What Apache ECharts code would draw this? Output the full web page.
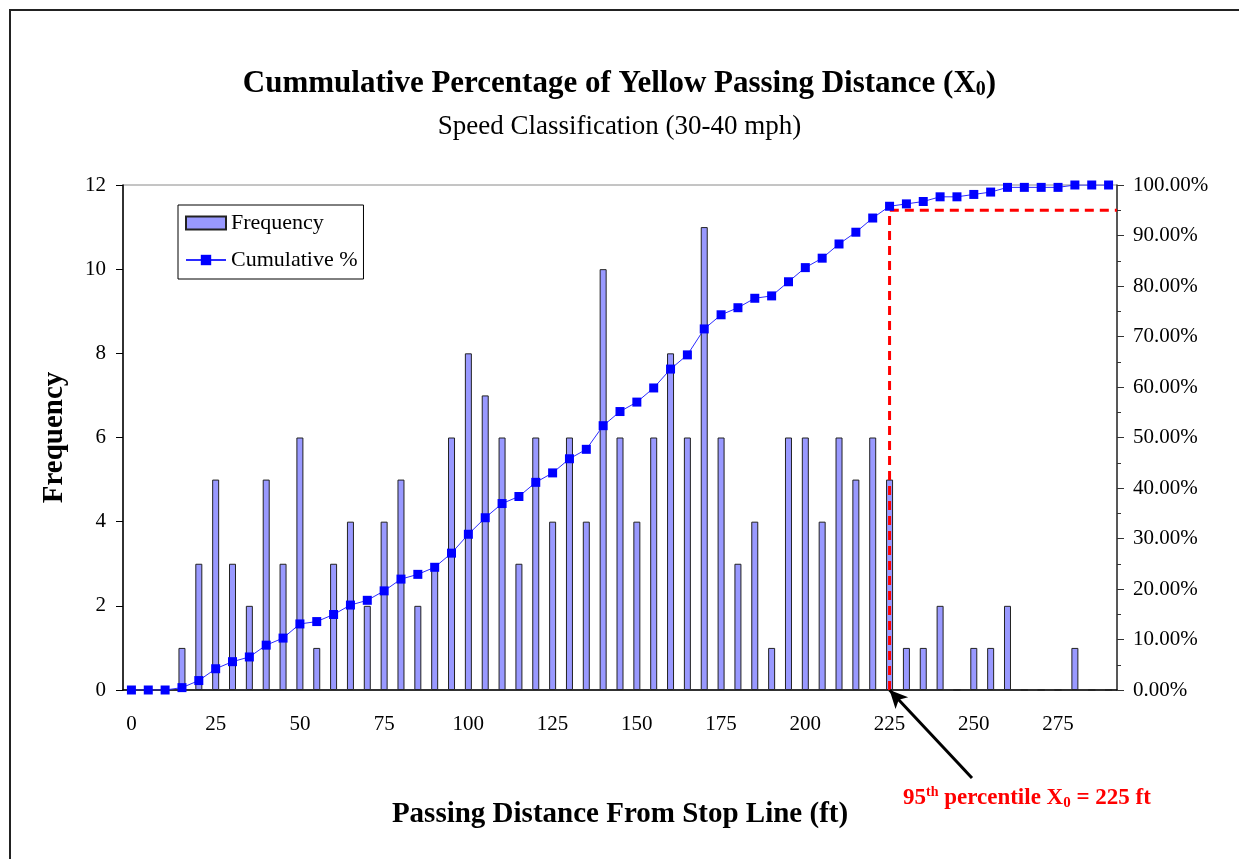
<!DOCTYPE html>
<html>
<head>
<meta charset="utf-8">
<title>Cumulative Percentage of Yellow Passing Distance</title>
<script src="https://cdn.jsdelivr.net/npm/echarts@6/dist/echarts.min.js"></script>
<style>
  html, body { margin: 0; padding: 0; background: #fff; }
  #chart { width: 1239px; height: 859px; }
</style>
</head>
<body>
<div id="chart"></div>
<script>
// passing distance bins (ft)
const distances = ['0', '5', '10', '15', '20', '25', '30', '35', '40', '45', '50', '55', '60', '65', '70', '75', '80', '85', '90', '95',
  '100', '105', '110', '115', '120', '125', '130', '135', '140', '145', '150', '155', '160', '165', '170', '175', '180', '185', '190', '195',
  '200', '205', '210', '215', '220', '225', '230', '235', '240', '245', '250', '255', '260', '265', '270', '275', '280', '285', '290'];

const frequency = [0, 0, 0, 1, 3, 5, 3, 2, 5, 3, 6, 1, 3, 4, 2, 4, 5, 2, 3, 6,
  8, 7, 6, 3, 6, 4, 6, 4, 10, 6, 4, 6, 8, 6, 11, 6, 3, 4, 1, 6,
  6, 4, 6, 5, 6, 5, 1, 1, 2, 0, 1, 1, 2, 0, 0, 0, 1, 0, 0];

// cumulative %
const cumulativePct = [0, 0, 0, 0.47, 1.87, 4.21, 5.61, 6.54, 8.88, 10.28, 13.08, 13.55, 14.95, 16.82, 17.76, 19.63, 21.96, 22.9, 24.3, 27.1,
  30.84, 34.11, 36.92, 38.32, 41.12, 42.99, 45.79, 47.66, 52.34, 55.14, 57.01, 59.81, 63.55, 66.36, 71.5, 74.3, 75.7, 77.57, 78.04, 80.84,
  83.64, 85.51, 88.32, 90.65, 93.46, 95.79, 96.26, 96.73, 97.66, 97.66, 98.13, 98.6, 99.53, 99.53, 99.53, 99.53, 100, 100, 100];

// 95th percentile guide (distance ft, cumulative %)
const guideX = [225, 225, 292.5];
const guidePct = [0, 95, 95];

const serif = '"Liberation Serif", "DejaVu Serif", serif';

const chart = echarts.init(document.getElementById('chart'), null, { renderer: 'canvas' });

chart.setOption({
  animation: false,
  backgroundColor: '#fff',
  textStyle: { fontFamily: serif },
  title: [
    {
      text: '{t|Cummulative Percentage of Yellow Passing Distance (X}{s|0}{t|)}',
      left: 'center', top: 63,
      textStyle: {
        rich: {
          t: { fontFamily: serif, fontSize: 31, fontWeight: 'bold', color: '#000' },
          s: { fontFamily: serif, fontSize: 20, fontWeight: 'bold', color: '#000', padding: [12, 0, 0, 0] }
        }
      }
    },
    {
      text: 'Speed Classification (30-40 mph)',
      left: 'center', top: 108,
      textStyle: { fontFamily: serif, fontSize: 27, fontWeight: 'normal', color: '#000' }
    }
  ],
  legend: {
    data: [{ name: 'Frequency', icon: 'rect' }, 'Cumulative %'],
    orient: 'vertical',
    left: 178, top: 205,
    itemWidth: 40, itemHeight: 13, itemGap: 15,
    padding: [7, 6, 8, 7],
    borderColor: '#000', borderWidth: 1,
    textStyle: { fontFamily: serif, fontSize: 22, color: '#000' }
  },
  grid: { left: 123, right: 122, top: 185, bottom: 169, show: true, borderColor: '#8a8a8a', borderWidth: 1 },
  xAxis: [
    {
      type: 'category', data: distances, boundaryGap: true,
      name: 'Passing Distance From Stop Line (ft)', nameLocation: 'middle', nameGap: 110,
      nameTextStyle: { fontFamily: serif, fontSize: 29, fontWeight: 'bold', color: '#000' },
      axisLine: { lineStyle: { color: '#000', width: 1.5 } },
      axisTick: { interval: 0, length: 7, lineStyle: { color: '#000' } },
      axisLabel: { interval: 4, margin: 24, fontFamily: serif, fontSize: 21, color: '#000' },
      splitLine: { show: false }
    },
    { type: 'value', min: -2.5, max: 292.5, show: false }
  ],
  yAxis: [
    {
      type: 'value', min: 0, max: 12, interval: 2,
      name: 'Frequency', nameLocation: 'middle', nameGap: 54,
      nameTextStyle: { fontFamily: serif, fontSize: 29, fontWeight: 'bold', color: '#000' },
      axisLine: { show: true, onZero: false, lineStyle: { color: '#000', width: 1.5 } },
      axisTick: { show: true, length: 7, lineStyle: { color: '#000' } },
      axisLabel: { margin: 17, fontFamily: serif, fontSize: 21, color: '#000' },
      splitLine: { show: false }
    },
    {
      type: 'value', min: 0, max: 100, interval: 10, position: 'right',
      axisLine: { show: true, onZero: false, lineStyle: { color: '#333', width: 1.5 } },
      axisTick: { show: true, length: 7, lineStyle: { color: '#333' } },
      minorTick: { show: true, splitNumber: 2, length: 4, lineStyle: { color: '#333' } },
      axisLabel: { margin: 16, fontFamily: serif, fontSize: 21, color: '#000', formatter: v => v.toFixed(2) + '%' },
      splitLine: { show: false }
    }
  ],
  series: [
    {
      name: 'Frequency', type: 'bar', data: frequency, barWidth: 7,
      itemStyle: { color: '#9999ff', borderColor: '#222', borderWidth: 1 },
      markLine: {
        silent: true, animation: false,
        lineStyle: { color: '#000', width: 3, type: 'solid' },
        label: { show: false },
        data: [[
          { coord: ['225', 0], symbol: 'arrow', symbolSize: [13, 18] },
          { x: 972, y: 778, symbol: 'none' }
        ]]
      }
    },
    {
      name: 'Cumulative %', type: 'line', yAxisIndex: 1, data: cumulativePct,
      symbol: 'rect', symbolSize: 9, z: 4,
      lineStyle: { color: '#2b2bff', width: 1 },
      itemStyle: { color: '#0000ff' }
    },
    {
      name: '95th', type: 'line', xAxisIndex: 1, yAxisIndex: 1,
      data: guideX.map((x, i) => [x, guidePct[i]]),
      symbol: 'none', z: 3,
      lineStyle: { color: '#ff0000', width: 3, type: [9, 6] }
    }
  ],
  graphic: [
    {
      type: 'rect', shape: { x: 10, y: 10, width: 1240, height: 860 },
      style: { fill: null, stroke: '#222', lineWidth: 2 }, silent: true
    },
    {
      type: 'text', left: 903, top: 785, silent: true,
      style: {
        text: '{a|95}{sup|th}{a| percentile X}{sub|0}{a| = 225 ft}',
        rich: {
          a: { fontFamily: serif, fontSize: 23, fontWeight: 'bold', fill: '#ff0000', color: '#ff0000' },
          sup: { fontFamily: serif, fontSize: 14, fontWeight: 'bold', fill: '#ff0000', color: '#ff0000', padding: [0, 0, 12, 0] },
          sub: { fontFamily: serif, fontSize: 15, fontWeight: 'bold', fill: '#ff0000', color: '#ff0000', padding: [11, 0, 0, 0] }
        }
      }
    }
  ]
});
</script>
</body>
</html>
